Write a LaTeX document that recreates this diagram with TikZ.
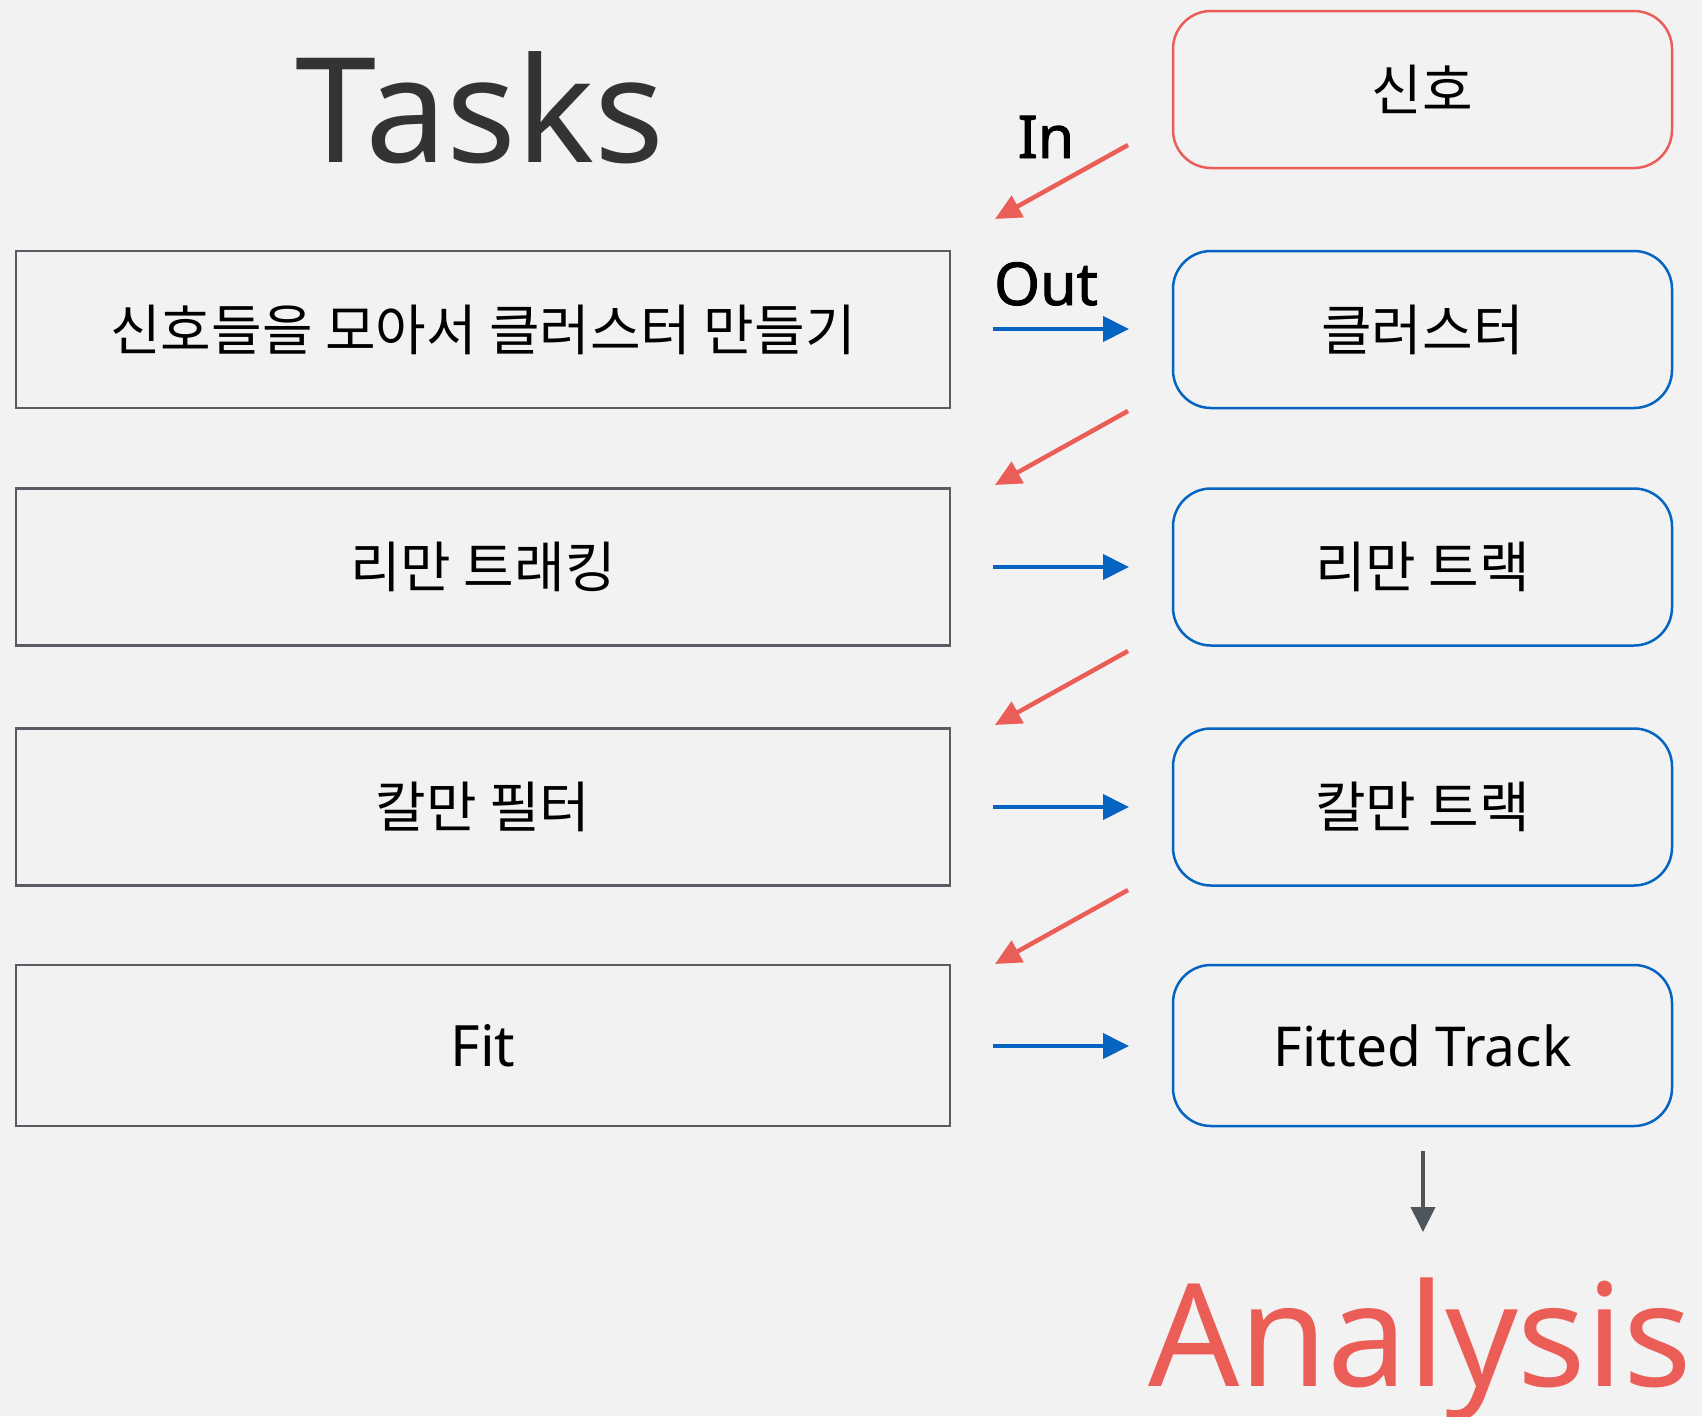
\documentclass[tikz,border=0pt]{standalone}
\usepackage{fontspec}
\setmainfont{Noto Sans}
\newfontfamily\kr{Noto Sans CJK KR}
\newfontfamily\medfont[FakeBold=1.5]{Noto Sans}
\usetikzlibrary{arrows.meta}
\definecolor{bg}{HTML}{F2F2F2}
\definecolor{redc}{HTML}{EB5E58}
\definecolor{bluec}{HTML}{0563C1}
\definecolor{grayb}{HTML}{595C63}
\definecolor{titlec}{HTML}{333333}
\definecolor{darkarr}{HTML}{50555C}
\tikzset{
  taskbox/.style={draw=grayb, line width=2.5pt, minimum width=934pt, minimum height=157pt, inner sep=0pt, font=\kr\fontsize{55}{60}\selectfont},
  outbox/.style={draw=bluec, line width=2.5pt, rounded corners=38pt, minimum width=499pt, minimum height=157pt, inner sep=0pt, font=\kr\fontsize{55}{60}\selectfont},
  inbox/.style={outbox, draw=redc},
  bluearr/.style={draw=bluec, line width=4pt, -{Triangle[length=26pt,width=25pt]}},
  redarr/.style={draw=redc, line width=4.5pt, -{Triangle[length=26pt,width=24pt]}},
  darkarrow/.style={draw=darkarr, line width=4pt, -{Triangle[length=25pt,width=24pt]}},
}
\begin{document}
\begin{tikzpicture}[x=1pt,y=-1pt]
\fill[bg] (0,0) rectangle (1702,1416);
\useasboundingbox (0,0) rectangle (1702,1416);

\node[anchor=base, text=titlec, font=\fontsize{146}{156}\selectfont] (title) at (480,162) {Tasks};

\node[taskbox] (t1) at (483,329.5) {신호들을 모아서 클러스터 만들기};
\node[taskbox] (t2) at (483,567) {리만 트래킹};
\node[taskbox] (t3) at (483,807) {칼만 필터};
\node[taskbox, minimum height=161pt, font=\fontsize{57}{64}\selectfont] (t4) at (483,1045.5) {Fit};

\node[inbox] (o0) at (1422.5,89.5) {신호};
\node[outbox] (o1) at (1422.5,329.5) {클러스터};
\node[outbox] (o2) at (1422.5,567) {리만 트랙};
\node[outbox] (o3) at (1422.5,807) {칼만 트랙};
\node[outbox, minimum height=161pt, font=\fontsize{55}{62}\selectfont] (o4) at (1422.5,1045.5) {Fitted Track};

\node[anchor=base, font=\medfont\fontsize{59}{66}\selectfont] (inlbl) at (1046,158) {In};
\node[anchor=base, font=\medfont\fontsize{59}{66}\selectfont] (outlbl) at (1046,305) {Out};

% blue arrows
\foreach \i/\y in {1/329,2/567,3/807,4/1046}{
  \coordinate (bs\i) at (993,\y);
  \coordinate (be\i) at (1129,\y);
  \draw[bluearr] (bs\i) -- (be\i);
}
% red arrows
\foreach \i/\ya/\yb in {0/145/219,1/411/485,2/651/725,3/890/964}{
  \coordinate (rs\i) at (1128,\ya);
  \coordinate (re\i) at (995,\yb);
  \draw[redarr] (rs\i) -- (re\i);
}

\coordinate (ds) at (1423,1151);
\coordinate (de) at (1423,1232);
\draw[darkarrow] (ds) -- (de);

\node[anchor=base, text=redc, font=\fontsize{143}{150}\selectfont] (analysis) at (1420,1386) {Analysis};
\end{tikzpicture}
\end{document}
